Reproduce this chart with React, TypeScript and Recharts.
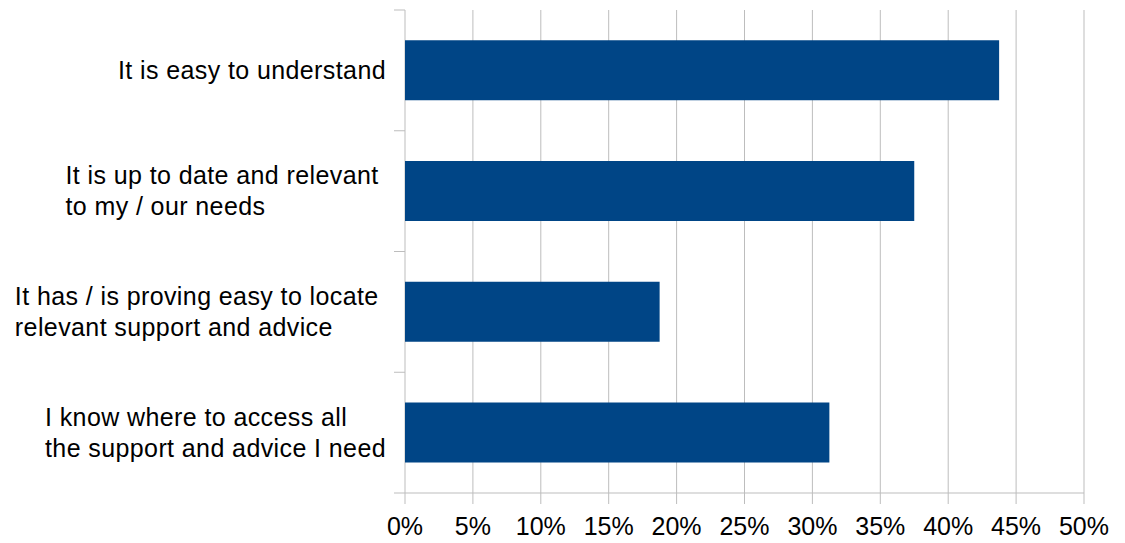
import React from 'react';
import { BarChart, Bar, XAxis, YAxis, CartesianGrid } from 'recharts';

// survey answers (share of respondents, %)
const statements = [
  'It is easy to understand',
  'It is up to date and relevant\nto my / our needs',
  'It has / is proving easy to locate\nrelevant support and advice',
  'I know where to access all\nthe support and advice I need',
];
const shares = [43.75, 37.5, 18.75, 31.25];
const percentTicks = [0, 5, 10, 15, 20, 25, 30, 35, 40, 45, 50];

const data = statements.map((s, i) => ({ name: s, value: shares[i] }));

const W = 1125;
const H = 543;
const TOP = 10;
const LEFT = 405;
const RIGHT = 41;
const X_AXIS_H = 50;
const PLOT_BOTTOM = H - X_AXIS_H;
const BAND = (PLOT_BOTTOM - TOP) / statements.length;

const FONT = '"Liberation Sans", Arial, sans-serif';
const FS = 25;
const SPACING = 0.4;
const LINE_GAP = 31;
const LABEL_RIGHT = 386;
const GRID = '#bdbdbd';
const TICK_LEN = 11;

let ctx: CanvasRenderingContext2D | null = null;
const measure = (t: string) => {
  if (!ctx) {
    ctx = document.createElement('canvas').getContext('2d');
  }
  if (!ctx) return t.length * FS * 0.5;
  ctx.font = `${FS}px "Liberation Sans"`;
  (ctx as any).letterSpacing = `${SPACING}px`;
  return ctx.measureText(t).width;
};

// category label + the small tick marks at the band boundaries
const CategoryTick = (props: any) => {
  const { y, payload, index } = props;
  const lines: string[] = String(payload.value).split('\n');
  // wrapped lines keep their trailing space when the block is right-aligned
  const w = Math.max(...lines.map((l, i) => measure(i < lines.length - 1 ? l + ' ' : l)));
  const startX = LABEL_RIGHT - w;
  const firstDy = -((lines.length - 1) * LINE_GAP) / 2;
  const isLast = index === statements.length - 1;
  return (
    <g>
      <line x1={LEFT - TICK_LEN} x2={LEFT} y1={y - BAND / 2} y2={y - BAND / 2} stroke={GRID} />
      {isLast && (
        <line x1={LEFT - TICK_LEN} x2={LEFT} y1={y + BAND / 2} y2={y + BAND / 2} stroke={GRID} />
      )}
      <text
        x={startX}
        y={y}
        fontFamily={FONT}
        fontSize={FS}
        letterSpacing={SPACING}
        fill="#000"
        textAnchor="start"
      >
        {lines.map((l, i) => (
          <tspan key={i} x={startX} dy={i === 0 ? firstDy + FS * 0.35 : LINE_GAP}>
            {l}
          </tspan>
        ))}
      </text>
    </g>
  );
};

const PercentTick = (props: any) => {
  const { x, payload } = props;
  return (
    <g>
      <line x1={x} x2={x} y1={PLOT_BOTTOM} y2={PLOT_BOTTOM + TICK_LEN} stroke={GRID} />
      <text x={x} y={535} textAnchor="middle" fontFamily={FONT} fontSize={FS} fill="#000">
        {`${payload.value}%`}
      </text>
    </g>
  );
};

export default function App() {
  return (
    <div style={{ position: 'absolute', left: 0, top: 0, background: '#fff' }}>
      <BarChart
        width={W}
        height={H}
        data={data}
        layout="vertical"
        margin={{ top: TOP, right: RIGHT, bottom: 0, left: 0 }}
        barCategoryGap="25%"
      >
        <CartesianGrid stroke={GRID} horizontalPoints={[PLOT_BOTTOM]} />
        <XAxis
          type="number"
          domain={[0, 50]}
          ticks={percentTicks}
          interval={0}
          height={X_AXIS_H}
          axisLine={false}
          tickLine={false}
          tick={<PercentTick />}
        />
        <YAxis
          type="category"
          dataKey="name"
          width={LEFT}
          axisLine={false}
          tickLine={false}
          tick={<CategoryTick />}
          interval={0}
        />
        <Bar dataKey="value" fill="#004586" isAnimationActive={false} />
      </BarChart>
    </div>
  );
}
